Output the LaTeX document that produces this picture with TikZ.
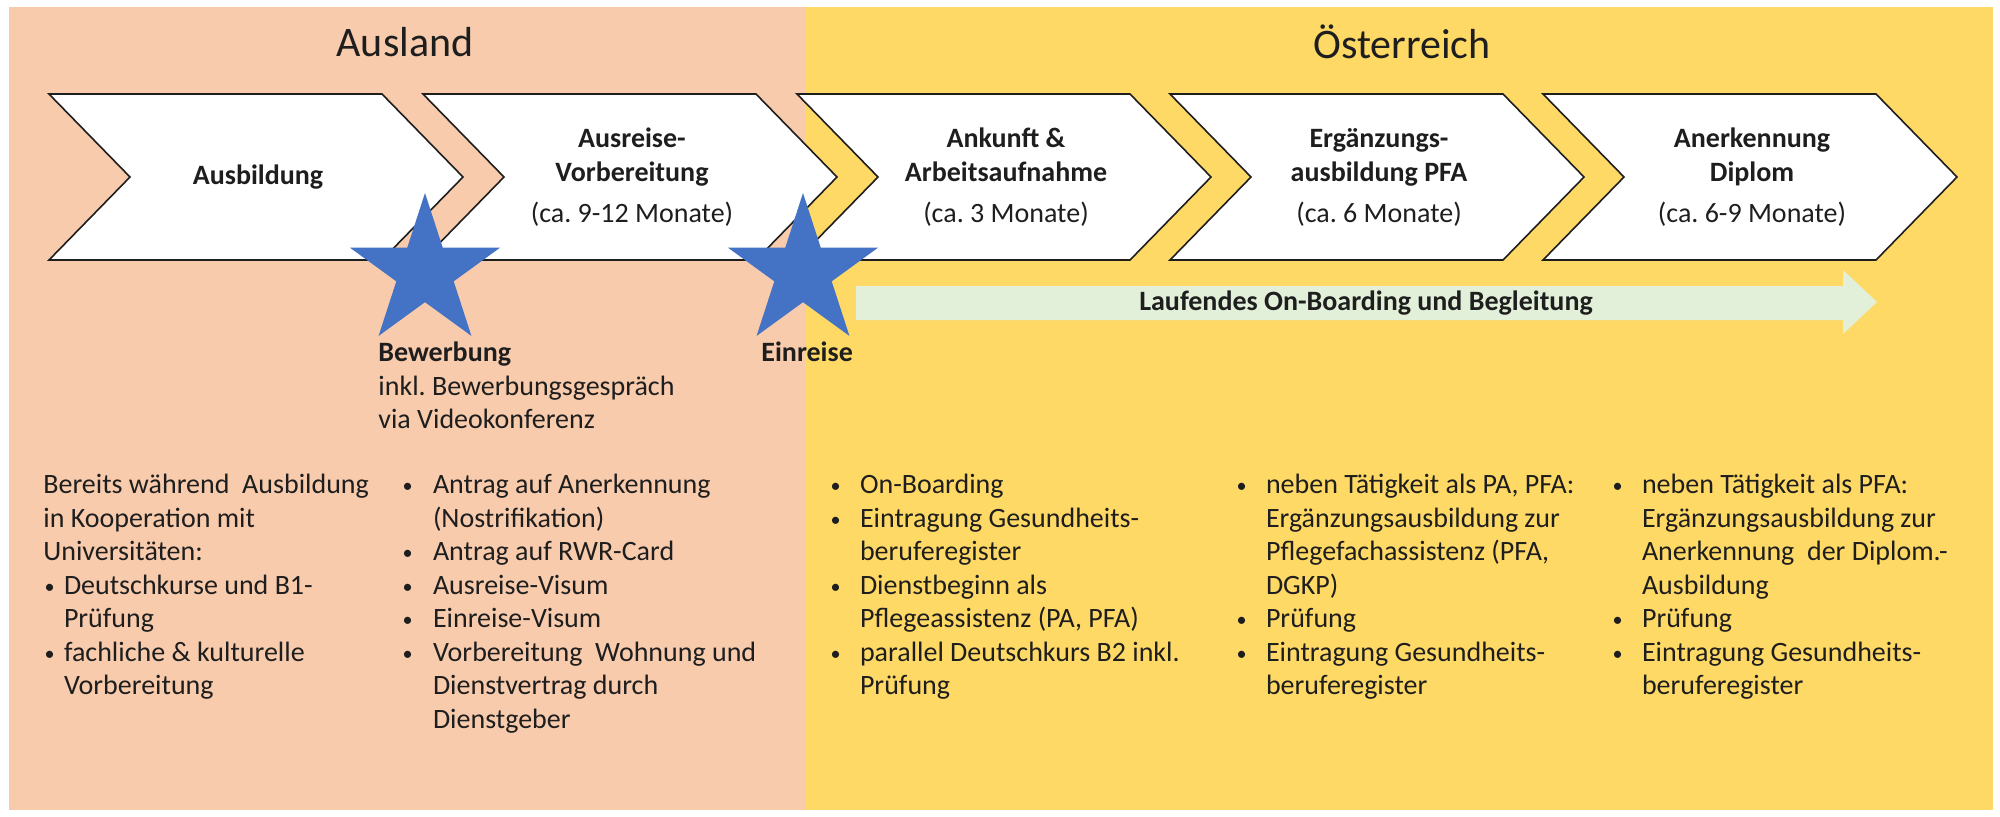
\documentclass[tikz,border=0pt]{standalone}
\usepackage{fontspec}
\setmainfont{Carlito}
\usetikzlibrary{shapes.geometric}
\definecolor{peach}{HTML}{F8CBAD}
\definecolor{gold}{HTML}{FFD966}
\definecolor{starblue}{HTML}{4472C4}
\definecolor{mint}{HTML}{E2F0D9}
\definecolor{ink}{HTML}{1E1E1E}
\frenchspacing
\newcommand\bl[1]{\makebox[#1][l]{\hspace{0.6pt}\raisebox{0.6pt}{\scalebox{0.72}{•}}}}
\tikzset{
  chevline/.style={draw=ink, fill=white, line width=0.8pt, line join=miter},
  chevron/.pic={\path[chevline] (0,0) -- (333,0) -- (414,83) -- (333,166) -- (0,166) -- (81,83) -- cycle;},
  title/.style={text=ink, inner sep=0pt, font=\fontsize{21}{25}\selectfont},
  chevtxt/.style={text=ink, inner sep=0pt, align=center, anchor=north, font=\fontsize{14}{17}\selectfont\bfseries},
  coltxt/.style={text=ink, inner sep=0pt, align=left, anchor=north west, font=\fontsize{14}{16.75}\selectfont},
  starshape/.style={star, star points=5, star point ratio=2.618, minimum size=79pt, inner sep=0pt, fill=starblue, draw=none},
}
\begin{document}
\begin{tikzpicture}[x=0.5pt,y=-0.5pt]
\useasboundingbox (0,0) rectangle (2000,816);
\fill[white] (0,0) rectangle (2000,816);
\fill[peach] (9,7) rectangle (805,810);
\fill[gold] (805,7) rectangle (1993,810);

\node[title] (ausland) at (405,42) {Ausland};
\node[title] (oesterreich) at (1402,42) {Österreich};

\pic at (49,94) {chevron};
\pic at (423,94) {chevron};
\pic at (797,94) {chevron};
\pic at (1170,94) {chevron};
\pic at (1543,94) {chevron};

\node[text=ink, inner sep=0pt, font=\fontsize{14}{17}\selectfont\bfseries] (c1) at (258,177) {Ausbildung};
\node[chevtxt] (c2) at (632,123) {\strut Ausreise-\\Vorbereitung\\[3.5pt]{\mdseries (ca. 9-12 Monate)}};
\node[chevtxt] (c3) at (1006,123) {\strut Ankunft \&\\Arbeitsaufnahme\\[3.5pt]{\mdseries (ca. 3 Monate)}};
\node[chevtxt] (c4) at (1379,123) {\strut Ergänzungs-\\ausbildung PFA\\[3.5pt]{\mdseries (ca. 6 Monate)}};
\node[chevtxt] (c5) at (1752,123) {\strut Anerkennung\\Diplom\\[3.5pt]{\mdseries (ca. 6-9 Monate)}};

\fill[mint] (856,286) -- (1843,286) -- (1843,270) -- (1877,302) -- (1843,334) -- (1843,320) -- (856,320) -- cycle;
\node[text=ink, inner sep=0pt, font=\fontsize{14}{17}\selectfont\bfseries] (bar) at (1366,303) {Laufendes On-Boarding und Begleitung};

\node[starshape] (s1) at (425,272) {};
\node[starshape] (s2) at (803,272) {};

\node[coltxt] (bew) at (378,338) {\strut\textbf{Bewerbung}\\inkl. Bewerbungsgespräch\\via Videokonferenz};
\node[coltxt] (ein) at (761,338) {\strut\textbf{Einreise}};

\node[coltxt] (col1) at (43,470) {\strut Bereits während\ \ Ausbildung\\in Kooperation mit\\Universitäten:\\\bl{10.3pt}Deutschkurse und B1-\\\hspace*{10.3pt}Prüfung\\\bl{10.3pt}fachliche \& kulturelle\\\hspace*{10.3pt}Vorbereitung};
\node[coltxt] (col2) at (401,470) {\strut\bl{15.8pt}Antrag auf Anerkennung\\\hspace*{15.8pt}(Nostrifikation)\\\bl{15.8pt}Antrag auf RWR-Card\\\bl{15.8pt}Ausreise-Visum\\\bl{15.8pt}Einreise-Visum\\\bl{15.8pt}Vorbereitung\ \ Wohnung und\\\hspace*{15.8pt}Dienstvertrag durch\\\hspace*{15.8pt}Dienstgeber};
\node[coltxt] (col3) at (829,470) {\strut\bl{15.3pt}On-Boarding\\\bl{15.3pt}Eintragung Gesundheits-\\\hspace*{15.3pt}beruferegister\\\bl{15.3pt}Dienstbeginn als\\\hspace*{15.3pt}Pflegeassistenz (PA, PFA)\\\bl{15.3pt}parallel Deutschkurs B2 inkl.\\\hspace*{15.3pt}Prüfung};
\node[coltxt] (col4) at (1235,470) {\strut\bl{15.3pt}neben Tätigkeit als PA, PFA:\\\hspace*{15.3pt}Ergänzungsausbildung zur\\\hspace*{15.3pt}Pflegefachassistenz (PFA,\\\hspace*{15.3pt}DGKP)\\\bl{15.3pt}Prüfung\\\bl{15.3pt}Eintragung Gesundheits-\\\hspace*{15.3pt}beruferegister};
\node[coltxt] (col5) at (1611,470) {\strut\bl{15.3pt}neben Tätigkeit als PFA:\\\hspace*{15.3pt}Ergänzungsausbildung zur\\\hspace*{15.3pt}Anerkennung\ \ der Diplom.-\\\hspace*{15.3pt}Ausbildung\\\bl{15.3pt}Prüfung\\\bl{15.3pt}Eintragung Gesundheits-\\\hspace*{15.3pt}beruferegister};
\end{tikzpicture}
\end{document}
